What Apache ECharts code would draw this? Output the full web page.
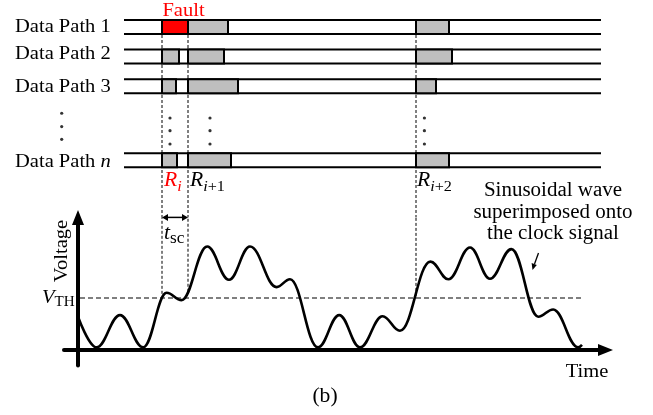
<!DOCTYPE html>
<html>
<head>
<meta charset="utf-8">
<title>Data paths and clock voltage</title>
<script src="https://cdn.jsdelivr.net/npm/echarts@6.0.0/dist/echarts.min.js"></script>
<style>
  html, body { margin: 0; padding: 0; background: #fff; }
  #main { width: 653px; height: 415px; }
</style>
</head>
<body>
<div id="main"></div>
<script>
// values: time in arbitrary units, voltage scaled so V_TH = 1
const rowNames = ['Data Path 1', 'Data Path 2', 'Data Path 3', 'Data Path n'];
const roundNames = ['i', 'i+1', 'i+2'];
const roundStart = [42, 55, 169];
// end of the busy slot of each data path in rounds R_i, R_i+1, R_i+2
const busyEnd = [
  [55, 75, 185.5],
  [50.5, 73, 187],
  [49, 80, 179],
  [49.5, 76.5, 185.5]
];
const faultRow = 0;
const faultRound = 0;
const laneSpan = [23, 261.5];
const waveT = [0, 9.3, 21, 32.6, 44.3, 51.8, 64.6, 75.5, 86, 99.3, 106, 120, 130.6, 141, 152.3, 161, 176.2, 185.2, 196, 206, 216.7, 230.1, 237.6, 250.1, 252];
const waveV = [0.64, 0.05, 0.67, 0.05, 1.10, 0.96, 1.99, 1.35, 1.99, 1.21, 1.36, 0.05, 0.67, 0.05, 0.65, 0.37, 1.70, 1.36, 1.97, 1.37, 1.94, 0.64, 0.78, 0.05, 0.1];
const vTH = 1;
const vthSpan = [1, 252.5];
const cutV = [1.08, 1.12, 1.04];   // where each round line meets the waveform
const tscV = 2.55;

// layout
const SERIF = '"Liberation Serif", "Times New Roman", serif';
const X0 = 64, XEND = 605.5, PX_T = 2;
const tMin = -7, tMax = tMin + (XEND - X0) / PX_T;
const PX_V = 52, vMin = -0.3, vMax = 2.55, ORIGIN_Y = 350;
const botTop = ORIGIN_Y - vMax * PX_V;
const botH = (vMax - vMin) * PX_V;
const topTop = 20, PITCH = 29.6, LANE = 14 / PITCH;
const rowMax = (botTop - topTop) / PITCH;
const rowSlot = [0, 1, 2, 4.5];
const SX = 1.08;

const boxData = [];
busyEnd.forEach(function (ends, r) {
  ends.forEach(function (end, k) {
    boxData.push([roundStart[k], end, r, (r === faultRow && k === faultRound) ? 1 : 0]);
  });
});

const dotData = [];
[-8.15].forEach(function (t) {
  [3.15, 3.6, 4.03].forEach(function (y) { dotData.push([t, y]); });
});
[46, 66, 173.2].forEach(function (t) {
  [3.31, 3.74, 4.19].forEach(function (y) { dotData.push([t, y]); });
});

// plain text with its baseline at y
function label(x, y, text, size, opts) {
  opts = opts || {};
  return {
    type: 'text', x: x, y: y - 0.3 * size, scaleX: opts.sx || SX, rotation: opts.rot || 0,
    z: 100,
    style: {
      text: text, fontFamily: SERIF, fontSize: size, fill: opts.color || '#000',
      align: opts.align || 'left', verticalAlign: 'middle', lineHeight: opts.lh,
      rich: opts.rich
    }
  };
}

// main glyph plus subscript parts, baseline of the main part at y
function math(x, y, parts, opts) {
  const ms = opts.ms, ss = opts.ss, drop = opts.drop;
  const H = 2 * drop + 0.6 * (ms - ss) + ss;
  const color = opts.color || '#000';
  const rich = {
    m: { fontFamily: SERIF, fontSize: ms, fontStyle: 'italic', lineHeight: H, verticalAlign: 'middle', fill: color },
    s: { fontFamily: SERIF, fontSize: ss, fontStyle: 'italic', lineHeight: ss, verticalAlign: 'bottom', fill: color },
    r: { fontFamily: SERIF, fontSize: ss, lineHeight: ss, verticalAlign: 'bottom', fill: color }
  };
  const text = parts.map(function (p) { return '{' + p[0] + '|' + p[1] + '}'; }).join('');
  return {
    type: 'text', x: x, y: y - H / 2 - 0.3 * ms, scaleX: SX, z: 100,
    style: { text: text, rich: rich, align: 'left', verticalAlign: 'top' }
  };
}

const texts = [];
rowNames.forEach(function (name, i) {
  const base = [32.3, 60, 92.7, 167.3][i];
  if (name.slice(-1) === 'n') {
    texts.push(label(15, base, '{a|Data Path }{n|n}', 19, {
      rich: {
        a: { fontFamily: SERIF, fontSize: 19 },
        n: { fontFamily: SERIF, fontSize: 19, fontStyle: 'italic' }
      }
    }));
  } else {
    texts.push(label(15, base, name, 19));
  }
});
texts.push(label(183.5, 16.5, 'Fault', 19, { align: 'center', color: '#ff0000' }));
texts.push(math(164, 186.5, [['m', 'R'], ['s', roundNames[0]]], { ms: 20, ss: 15, drop: 5, color: '#ff0000' }));
texts.push(math(190, 186.5, [['m', 'R'], ['s', 'i'], ['r', '+1']], { ms: 20, ss: 15, drop: 5 }));
texts.push(math(417, 186.5, [['m', 'R'], ['s', 'i'], ['r', '+2']], { ms: 20, ss: 15, drop: 5 }));
texts.push(math(164, 240, [['m', 't'], ['r', 'sc']], { ms: 20, ss: 16, drop: 4 }));
texts.push(math(42, 304, [['m', 'V'], ['r', 'TH']], { ms: 19, ss: 14, drop: 3 }));
texts.push({
  type: 'text', x: 62.3, y: 251, rotation: Math.PI / 2, scaleX: SX, z: 100,
  style: { text: 'Voltage', fontFamily: SERIF, fontSize: 19, fill: '#000', align: 'center', verticalAlign: 'middle' }
});
texts.push(label(587, 378, 'Time', 19, { align: 'center' }));
texts.push(label(325, 403, '(b)', 20, { align: 'center' }));
texts.push({
  type: 'text', x: 553, y: 190.7 - 11, scaleX: 1.05, z: 100,
  style: {
    text: 'Sinusoidal wave\nsuperimposed onto\nthe clock signal', fontFamily: SERIF, fontSize: 20,
    lineHeight: 21.7, fill: '#000', align: 'center', verticalAlign: 'top'
  }
});
// pointer from the note to the waveform
texts.push({ type: 'line', z: 100, shape: { x1: 538.5, y1: 253, x2: 534.5, y2: 264 }, style: { stroke: '#000', lineWidth: 1.3 } });
texts.push({ type: 'polygon', z: 100, shape: { points: [[532.5, 270], [531.6, 263], [536.8, 264.9]] }, style: { fill: '#000' } });

const option = {
  animation: false,
  backgroundColor: '#fff',
  grid: [
    { left: X0, top: topTop, width: XEND - X0, height: botTop - topTop },
    { left: X0, top: botTop, width: XEND - X0, height: botH }
  ],
  xAxis: [
    { gridIndex: 0, type: 'value', min: tMin, max: tMax, show: false },
    {
      gridIndex: 1, type: 'value', min: tMin, max: tMax,
      axisLine: { show: true, onZero: true, symbol: ['none', 'triangle'], symbolSize: [12, 15], lineStyle: { color: '#000', width: 4 } },
      axisTick: { show: false }, axisLabel: { show: false }, splitLine: { show: false }
    }
  ],
  yAxis: [
    { gridIndex: 0, type: 'value', inverse: true, min: 0, max: rowMax, show: false },
    {
      gridIndex: 1, type: 'value', min: vMin, max: vMax,
      axisLine: { show: true, onZero: true, symbol: ['none', 'triangle'], symbolSize: [12, 15], lineStyle: { color: '#000', width: 4 } },
      axisTick: { show: false }, axisLabel: { show: false }, splitLine: { show: false }
    }
  ],
  series: [
    {
      // round boundaries through the data paths
      type: 'custom', xAxisIndex: 0, yAxisIndex: 0, z: 1,
      data: roundStart.map(function (t) { return [t, 0]; }),
      renderItem: function (params, api) {
        const a = api.coord([api.value(0), 0]);
        const b = api.coord([api.value(0), rowMax]);
        return { type: 'line', shape: { x1: a[0], y1: a[1], x2: b[0], y2: b[1] }, style: { stroke: '#000', lineWidth: 1, lineDash: [3, 2] } };
      }
    },
    {
      type: 'custom', xAxisIndex: 1, yAxisIndex: 1, z: 1,
      data: roundStart.map(function (t, i) { return [t, cutV[i]]; }),
      renderItem: function (params, api) {
        const a = api.coord([api.value(0), api.value(1)]);
        const b = api.coord([api.value(0), vMax]);
        return { type: 'line', shape: { x1: a[0], y1: a[1], x2: b[0], y2: b[1] }, style: { stroke: '#000', lineWidth: 1, lineDash: [3, 2] } };
      }
    },
    {
      // two rails per data path
      type: 'custom', xAxisIndex: 0, yAxisIndex: 0, z: 2,
      data: rowSlot.map(function (s) { return [laneSpan[0], s, laneSpan[1]]; }),
      encode: { x: [0, 2], y: 1 },
      renderItem: function (params, api) {
        const s = api.value(1);
        const a0 = api.coord([api.value(0), s]), a1 = api.coord([api.value(2), s]);
        const b0 = api.coord([api.value(0), s + LANE]), b1 = api.coord([api.value(2), s + LANE]);
        const st = { stroke: '#000', lineWidth: 2 };
        return {
          type: 'group', children: [
            { type: 'line', shape: { x1: a0[0], y1: a0[1], x2: a1[0], y2: a1[1] }, style: st },
            { type: 'line', shape: { x1: b0[0], y1: b0[1], x2: b1[0], y2: b1[1] }, style: st }
          ]
        };
      }
    },
    {
      // busy slots
      type: 'custom', xAxisIndex: 0, yAxisIndex: 0, z: 3,
      data: boxData,
      encode: { x: [0, 1], y: 2 },
      renderItem: function (params, api) {
        const slot = rowSlot[api.value(2)];
        const a = api.coord([api.value(0), slot]);
        const b = api.coord([api.value(1), slot + LANE]);
        return {
          type: 'rect',
          shape: { x: a[0], y: a[1], width: b[0] - a[0], height: b[1] - a[1] },
          style: { fill: api.value(3) ? '#ff0000' : '#bfbfbf', stroke: '#000', lineWidth: 2 }
        };
      }
    },
    {
      type: 'scatter', xAxisIndex: 0, yAxisIndex: 0, z: 3, clip: false,
      symbolSize: 3.2, itemStyle: { color: '#000' },
      data: dotData
    },
    {
      type: 'line', xAxisIndex: 1, yAxisIndex: 1, z: 2, symbol: 'none', clip: false,
      lineStyle: { color: '#000', width: 1.2, type: [5, 3] },
      data: [[vthSpan[0], vTH], [vthSpan[1], vTH]]
    },
    {
      type: 'line', xAxisIndex: 1, yAxisIndex: 1, z: 5, symbol: 'none', clip: false,
      smooth: 0.4, smoothMonotone: 'x',
      lineStyle: { color: '#000', width: 2.6 },
      data: waveT.map(function (t, i) { return [t, waveV[i]]; })
    },
    {
      // t_sc double arrow
      type: 'custom', xAxisIndex: 1, yAxisIndex: 1, z: 6,
      data: [[roundStart[0], tscV, roundStart[1]]],
      encode: { x: [0, 2], y: 1 },
      renderItem: function (params, api) {
        const a = api.coord([api.value(0), api.value(1)]);
        const b = api.coord([api.value(2), api.value(1)]);
        const y = a[1];
        return {
          type: 'group', children: [
            { type: 'line', shape: { x1: a[0] + 3, y1: y, x2: b[0] - 3, y2: y }, style: { stroke: '#000', lineWidth: 1.5 } },
            { type: 'polygon', shape: { points: [[a[0], y], [a[0] + 6, y - 3.5], [a[0] + 6, y + 3.5]] }, style: { fill: '#000' } },
            { type: 'polygon', shape: { points: [[b[0], y], [b[0] - 6, y - 3.5], [b[0] - 6, y + 3.5]] }, style: { fill: '#000' } }
          ]
        };
      }
    }
  ],
  graphic: { elements: texts }
};

const chart = echarts.init(document.getElementById('main'));
chart.setOption(option);
</script>
</body>
</html>
